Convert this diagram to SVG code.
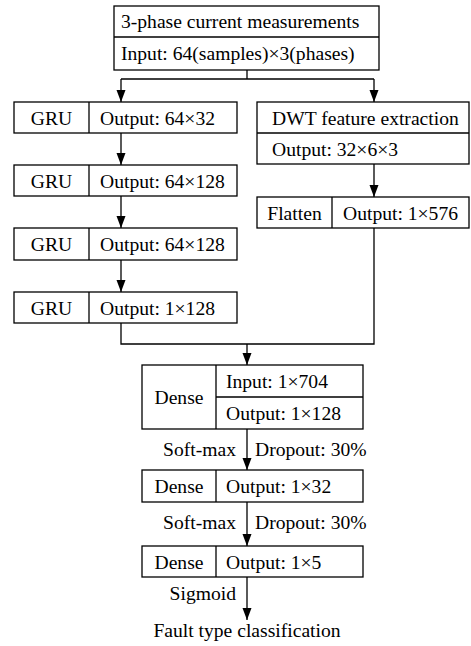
<svg xmlns="http://www.w3.org/2000/svg" width="471" height="646" viewBox="0 0 471 646">
  <style>
    .box { fill: #fff; stroke: #000; stroke-width: 1.3; }
    .div { stroke: #000; stroke-width: 1.3; fill: none; }
    .wire { stroke: #000; stroke-width: 1.3; fill: none; }
    text { font-family: "Liberation Serif", "Times New Roman", serif; font-size: 19.6px; fill: #000; }
    .c { text-anchor: middle; }
    .r { text-anchor: end; }
  </style>
  <defs>
    <marker id="arrow" markerWidth="12" markerHeight="10" refX="12" refY="4.5" orient="auto" markerUnits="userSpaceOnUse">
      <path d="M0,0 L12,4.5 L0,9 Z" fill="#000"/>
    </marker>
  </defs>
  <rect width="471" height="646" fill="#fff"/>

  <g id="connectors">
    <!-- split from input -->
    <path class="wire" d="M247,70 V79 M121,79 H374"/>
    <path class="wire" d="M121,79 V102" marker-end="url(#arrow)"/>
    <path class="wire" d="M374,79 V102" marker-end="url(#arrow)"/>
    <!-- GRU chain -->
    <path class="wire" d="M121,133 V165" marker-end="url(#arrow)"/>
    <path class="wire" d="M121,196 V228" marker-end="url(#arrow)"/>
    <path class="wire" d="M121,260 V292" marker-end="url(#arrow)"/>
    <!-- DWT branch -->
    <path class="wire" d="M374,164 V197" marker-end="url(#arrow)"/>
    <!-- merge -->
    <path class="wire" d="M121,323 V344 H374 V228"/>
    <path class="wire" d="M247,344 V365" marker-end="url(#arrow)"/>
    <!-- dense chain -->
    <path class="wire" d="M247,429 V470" marker-end="url(#arrow)"/>
    <path class="wire" d="M247,502 V546" marker-end="url(#arrow)"/>
    <path class="wire" d="M247,577 V620" marker-end="url(#arrow)"/>
    <text class="r" x="236" y="456">Soft-max</text>
    <text x="255" y="456">Dropout: 30%</text>
    <text class="r" x="236" y="529">Soft-max</text>
    <text x="255" y="529">Dropout: 30%</text>
    <text class="r" x="236" y="600">Sigmoid</text>
  </g>

  <g id="input">
    <rect class="box" x="114" y="6" width="265" height="64"/>
    <path class="div" d="M114,37 H379"/>
    <text x="121" y="28">3-phase current measurements</text>
    <text x="121" y="60">Input: 64(samples)×3(phases)</text>
  </g>

  <g id="gru1">
    <rect class="box" x="14" y="102" width="223" height="31"/>
    <path class="div" d="M89,102 V133"/>
    <text class="c" x="51.5" y="124.5">GRU</text>
    <text x="100" y="124.5">Output: 64×32</text>
  </g>
  <g id="gru2">
    <rect class="box" x="14" y="165" width="223" height="31"/>
    <path class="div" d="M89,165 V196"/>
    <text class="c" x="51.5" y="187.5">GRU</text>
    <text x="100" y="187.5">Output: 64×128</text>
  </g>
  <g id="gru3">
    <rect class="box" x="14" y="228" width="223" height="32"/>
    <path class="div" d="M89,228 V260"/>
    <text class="c" x="51.5" y="251">GRU</text>
    <text x="100" y="251">Output: 64×128</text>
  </g>
  <g id="gru4">
    <rect class="box" x="14" y="292" width="223" height="31"/>
    <path class="div" d="M89,292 V323"/>
    <text class="c" x="51.5" y="314.5">GRU</text>
    <text x="100" y="314.5">Output: 1×128</text>
  </g>

  <g id="dwt">
    <rect class="box" x="257" y="102" width="212" height="62"/>
    <path class="div" d="M257,133 H469"/>
    <text x="272" y="124.5">DWT feature extraction</text>
    <text x="272" y="155.5">Output: 32×6×3</text>
  </g>
  <g id="flatten">
    <rect class="box" x="257" y="197" width="212" height="31"/>
    <path class="div" d="M332,197 V228"/>
    <text class="c" x="294.5" y="219.5">Flatten</text>
    <text x="343" y="219.5">Output: 1×576</text>
  </g>

  <g id="dense1">
    <rect class="box" x="142" y="365" width="221" height="64"/>
    <path class="div" d="M216,365 V429 M216,397 H363"/>
    <text class="c" x="179" y="403.5">Dense</text>
    <text x="226" y="387.5">Input: 1×704</text>
    <text x="226" y="419.5">Output: 1×128</text>
  </g>
  <g id="dense2">
    <rect class="box" x="142" y="470" width="221" height="32"/>
    <path class="div" d="M216,470 V502"/>
    <text class="c" x="179" y="493">Dense</text>
    <text x="226" y="493">Output: 1×32</text>
  </g>
  <g id="dense3">
    <rect class="box" x="142" y="546" width="221" height="31"/>
    <path class="div" d="M216,546 V577"/>
    <text class="c" x="179" y="568.5">Dense</text>
    <text x="226" y="568.5">Output: 1×5</text>
  </g>

  <g id="output">
    <text class="c" x="247" y="637">Fault type classification</text>
  </g>
</svg>
